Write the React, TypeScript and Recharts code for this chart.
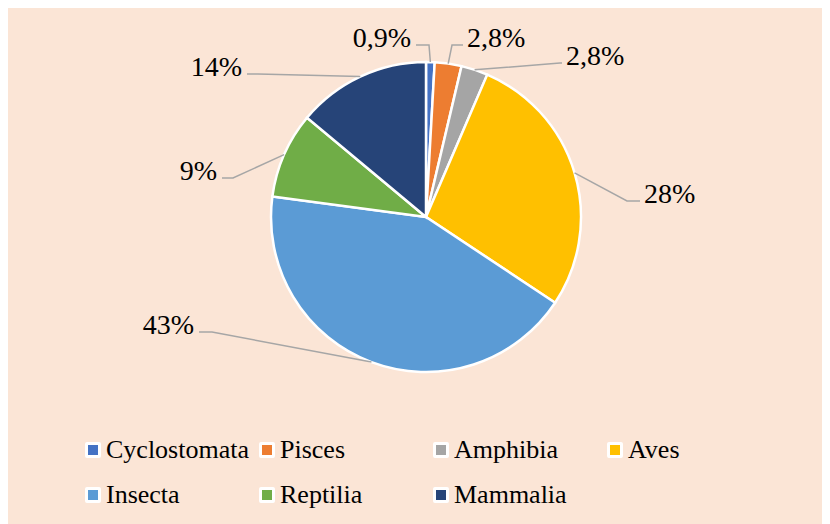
import React from "react";
import { PieChart, Pie, Cell, Legend } from "recharts";

const classes = ["Cyclostomata", "Pisces", "Amphibia", "Aves", "Insecta", "Reptilia", "Mammalia"];
const shares = [0.9, 2.8, 2.8, 28, 43, 9, 14];
const colors = ["#4472C4", "#ED7D31", "#A5A5A5", "#FFC000", "#5B9BD5", "#70AD47", "#264478"];

// where each leader line bends and ends, relative to the pie centre (Excel placed them by hand)
const leaderBends = [
  [3, -172], [26, -172], [134, -154], [201, -16], [-214, 115], [-193, -39], [-168, -143],
];
const leaderTails = [
  [-10, -172], [37, -172], [136, -154], [214, -16], [-227, 115], [-204, -39], [-179, -143],
];

const data = classes.map((name, i) => ({ name, value: shares[i] }));

const RADIAN = Math.PI / 180;
const serif = "'Liberation Serif', 'DejaVu Serif', serif";

const renderLabel = (props: any) => {
  const { cx, cy, midAngle, outerRadius, index, value } = props;
  const sx = cx + outerRadius * Math.cos(-midAngle * RADIAN);
  const sy = cy + outerRadius * Math.sin(-midAngle * RADIAN);
  const bx = cx + leaderBends[index][0];
  const by = cy + leaderBends[index][1];
  const tx = cx + leaderTails[index][0];
  const ty = cy + leaderTails[index][1];
  const left = tx < bx;
  return (
    <g key={`lbl-${index}`}>
      <polyline
        points={`${sx},${sy} ${bx},${by} ${tx},${ty}`}
        fill="none"
        stroke="#A6A6A6"
        strokeWidth={1.5}
      />
      <text
        x={left ? tx - 5 : tx + 4}
        y={ty + 2}
        textAnchor={left ? "end" : "start"}
        style={{ fontFamily: serif }}
        fontSize={28}
        fill="#000"
      >
        {String(value).replace(".", ",") + "%"}
      </text>
    </g>
  );
};

const renderLegend = (props: any) => {
  const items = [...(props.payload || [])].sort(
    (a: any, b: any) => classes.indexOf(a.value) - classes.indexOf(b.value)
  );
  return (
    <div style={{ display: "flex", flexWrap: "wrap", width: 700 }}>
      {items.map((entry: any, i: number) => (
        <div
          key={i}
          style={{
            width: 174,
            height: 45,
            lineHeight: "45px",
            display: "flex",
            alignItems: "center",
            fontFamily: serif,
            fontSize: 26,
            color: "#000",
          }}
        >
          <span
            style={{
              display: "inline-block",
              width: 10,
              height: 10,
              background: entry.color,
              border: "3px solid #fff",
              borderRadius: 2,
              marginRight: 5,
            }}
          />
          <span>{entry.value}</span>
        </div>
      ))}
    </div>
  );
};

const App: React.FC = () => {
  return (
    <div
      style={{
        marginLeft: -2,
        marginTop: -2,
        width: 822,
        height: 516,
        borderTop: "2px solid #D9D9D9",
        borderLeft: "2px solid #D9D9D9",
        background: "#FBE5D6",
      }}
    >
      <style>{`body{overflow:hidden}`}</style>
      <PieChart width={822} height={516} margin={{ top: 0, right: 0, bottom: 0, left: 0 }}>
        <Pie
          data={data}
          dataKey="value"
          nameKey="name"
          cx={418}
          cy={209}
          outerRadius={155}
          startAngle={90}
          endAngle={-270}
          stroke="#fff"
          strokeWidth={2.5}
          label={renderLabel}
          labelLine={false}
          isAnimationActive={false}
        >
          {data.map((d, i) => (
            <Cell key={d.name} fill={colors[i]} />
          ))}
        </Pie>
        <Legend
          content={renderLegend}
          wrapperStyle={{ position: "absolute", left: 77, top: 419, width: 700 }}
        />
      </PieChart>
    </div>
  );
};

export default App;
